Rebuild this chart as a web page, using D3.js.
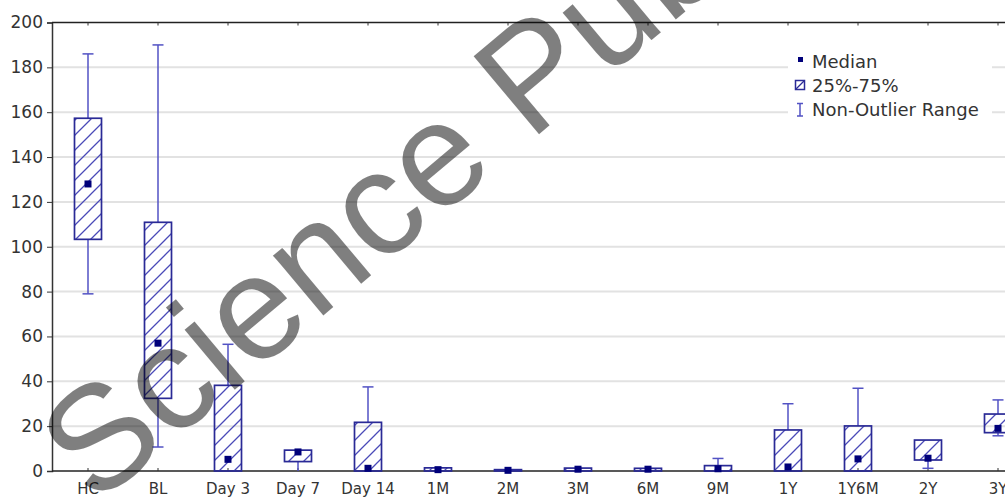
<!DOCTYPE html>
<html>
<head>
<meta charset="utf-8">
<script src="https://cdn.jsdelivr.net/npm/d3@7"></script>
<style>
  html, body { margin: 0; padding: 0; background: #fff; overflow: hidden; }
  svg { display: block; }
</style>
</head>
<body>
<script>
// Box plot data
const categories = ["HC", "BL", "Day 3", "Day 7", "Day 14", "1M", "2M", "3M", "6M", "9M", "1Y", "1Y6M", "2Y", "3Y"];
const whiskerLow  = [79,    10.7, 0,    0,   0,    0,   0,   0,   0,   0,   0,    0,    1.2,  15.7];
const q1          = [103.3, 32.4, 0,    4.2, 0,    0,   0,   0,   0,   0,   0,    0,    4.9,  17.1];
const medians     = [128,   57,   5.2,  8.5, 1.2,  0.6, 0.3, 0.8, 0.8, 1.0, 1.8,  5.4,  5.7,  19];
const q3          = [157.3, 110.9, 38.2, 9.3, 21.7, 1.4, 0.6, 1.3, 1.2, 2.4, 18.3, 20.1, 13.8, 25.4];
const whiskerHigh = [186,   190,  56.5, 9.3, 37.5, 1.4, 0.6, 1.3, 1.2, 5.6, 30,   36.9, 13.8, 31.7];
const yTicks = [0, 20, 40, 60, 80, 100, 120, 140, 160, 180, 200];
const legendItems = ["Median", "25%-75%", "Non-Outlier Range"];

const W = 1005, H = 498;
const plotLeft = 52, plotTop = 22.5, plotBottom = 471;
const boxColor = "#2a2a96";
const hatchColor = "#4a4ab8";
const whiskerColor = "#5252c4";
const medianColor = "#00007a";
const textColor = "#333";
const font = '"DejaVu Sans", Verdana, sans-serif';

const rows = categories.map((c, i) => ({
  cat: c, lo: whiskerLow[i], q1: q1[i], med: medians[i], q3: q3[i], hi: whiskerHigh[i]
}));

const x = d3.scaleBand().domain(categories).range([53, 53 + 70 * categories.length]);
const y = d3.scaleLinear().domain([0, 200]).range([plotBottom, plotTop]);
const cx = (d) => x(d) + x.bandwidth() / 2;
const boxW = 27, capW = 11;

const svg = d3.select("body").append("svg")
  .attr("width", W).attr("height", H)
  .style("font-family", font);

svg.append("rect").attr("width", W).attr("height", H).attr("fill", "#fff");

// hatch pattern for the boxes
const P = 15;
svg.append("defs").append("pattern")
  .attr("id", "hatch")
  .attr("patternUnits", "userSpaceOnUse")
  .attr("width", P).attr("height", P)
  .append("path")
  .attr("d", `M0,${P} L${P},0 M-2,2 L2,-2 M${P - 2},${P + 2} L${P + 2},${P - 2}`)
  .attr("stroke", hatchColor)
  .attr("stroke-width", 1.3);

// gridlines
svg.append("g")
  .selectAll("line")
  .data(yTicks.filter((t) => t > 0 && t < 200))
  .join("line")
  .attr("x1", plotLeft).attr("x2", W)
  .attr("y1", (d) => y(d)).attr("y2", (d) => y(d))
  .attr("stroke", "#e2e2e2")
  .attr("stroke-width", 2);

// y axis
const yG = svg.append("g")
  .attr("transform", `translate(${plotLeft},0)`)
  .call(d3.axisLeft(y).tickValues(yTicks).tickSize(5).tickPadding(4));
yG.select(".domain").attr("stroke", "#333").attr("stroke-width", 1.5);
yG.selectAll(".tick line").attr("stroke", "#333");
yG.selectAll("text").attr("fill", textColor).attr("font-size", 17).attr("font-family", font);

// x axis (bottom)
const xG = svg.append("g")
  .attr("transform", `translate(0,${plotBottom})`)
  .call(d3.axisBottom(x).tickSize(-3).tickSizeOuter(0));
xG.select(".domain").attr("stroke", "#222").attr("stroke-width", 1.5)
  .attr("d", `M${plotLeft},0H${W}`);
xG.selectAll(".tick line").attr("stroke", "#333");
xG.selectAll("text").attr("fill", textColor).attr("font-size", 15).attr("font-family", font)
  .attr("dy", "0.71em").attr("y", 12);

// top frame line with small ticks
const tG = svg.append("g")
  .attr("transform", `translate(0,${plotTop})`)
  .call(d3.axisTop(x).tickSize(-3).tickSizeOuter(0).tickFormat(""));
tG.select(".domain").attr("stroke", "#222").attr("stroke-width", 1.5)
  .attr("d", `M${plotLeft},0H${W}`);
tG.selectAll(".tick line").attr("stroke", "#333");

// boxes
const g = svg.append("g").selectAll("g").data(rows).join("g");

g.append("line")
  .attr("x1", (d) => cx(d.cat)).attr("x2", (d) => cx(d.cat))
  .attr("y1", (d) => y(d.q3)).attr("y2", (d) => y(d.hi))
  .attr("stroke", whiskerColor).attr("stroke-width", 1.5);
g.append("line")
  .attr("x1", (d) => cx(d.cat)).attr("x2", (d) => cx(d.cat))
  .attr("y1", (d) => y(d.q1)).attr("y2", (d) => y(d.lo))
  .attr("stroke", whiskerColor).attr("stroke-width", 1.5);
g.filter((d) => d.hi > d.q3).append("line")
  .attr("x1", (d) => cx(d.cat) - capW / 2).attr("x2", (d) => cx(d.cat) + capW / 2)
  .attr("y1", (d) => y(d.hi)).attr("y2", (d) => y(d.hi))
  .attr("stroke", whiskerColor).attr("stroke-width", 1.5);
g.filter((d) => d.lo < d.q1 && d.lo > 0).append("line")
  .attr("x1", (d) => cx(d.cat) - capW / 2).attr("x2", (d) => cx(d.cat) + capW / 2)
  .attr("y1", (d) => y(d.lo)).attr("y2", (d) => y(d.lo))
  .attr("stroke", whiskerColor).attr("stroke-width", 1.5);

g.append("rect")
  .attr("x", (d) => cx(d.cat) - boxW / 2)
  .attr("y", (d) => y(d.q3))
  .attr("width", boxW)
  .attr("height", (d) => Math.max(1, y(d.q1) - y(d.q3)))
  .attr("fill", "url(#hatch)")
  .attr("stroke", boxColor)
  .attr("stroke-width", 1.7);

g.append("rect")
  .attr("x", (d) => cx(d.cat) - 3.5)
  .attr("y", (d) => y(d.med) - 3.5)
  .attr("width", 7).attr("height", 7)
  .attr("fill", medianColor);

// legend
const lg = svg.append("g");
lg.append("rect").attr("x", 788).attr("y", 48).attr("width", 204).attr("height", 76).attr("fill", "#fff");
lg.selectAll("text").data(legendItems).join("text")
  .attr("x", 812)
  .attr("y", (d, i) => 68 + i * 24)
  .attr("fill", textColor)
  .attr("font-size", 18)
  .text((d) => d);
lg.append("rect").attr("x", 798).attr("y", 57).attr("width", 5).attr("height", 5).attr("fill", medianColor);
lg.append("rect").attr("x", 795.5).attr("y", 80.5).attr("width", 9).attr("height", 9)
  .attr("fill", "none").attr("stroke", boxColor).attr("stroke-width", 1.5);
lg.append("line").attr("x1", 796).attr("y1", 89).attr("x2", 804).attr("y2", 81)
  .attr("stroke", boxColor).attr("stroke-width", 1.3);
lg.append("path").attr("d", "M797,103.5H803M800,103.5V116M797,116H803")
  .attr("fill", "none").attr("stroke", whiskerColor).attr("stroke-width", 1.5);

// watermark
svg.append("text")
  .attr("transform", "translate(95,507) rotate(-40)")
  .attr("font-family", '"Liberation Sans", Arial, sans-serif')
  .attr("font-size", 148)
  .attr("fill", "#000")
  .attr("fill-opacity", 0.5)
  .text("Science Publishing Group");
</script>
</body>
</html>
